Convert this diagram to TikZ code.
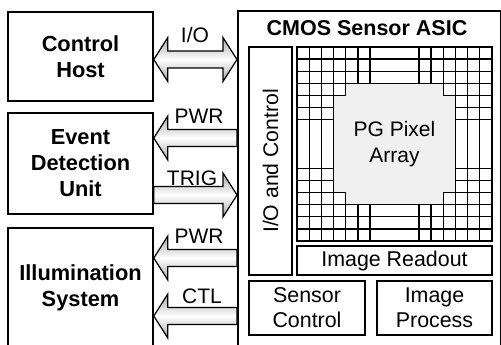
\documentclass[tikz,border=0pt]{standalone}
\usepackage{fontspec}
\setmainfont{Liberation Sans}
\usetikzlibrary{calc}
\newcommand\arrL[3]{%
  \shadedraw[blockarrow] let \p1=(#2.east), \p2=(#3.west) in
   (\x1,-#1pt) -- (\x1+14pt,-#1pt+22pt) -- (\x1+14pt,-#1pt+8.5pt) -- (\x2,-#1pt+8.5pt)
   -- (\x2,-#1pt-8.5pt) -- (\x1+14pt,-#1pt-8.5pt) -- (\x1+14pt,-#1pt-22pt) -- cycle;}
\newcommand\arrR[3]{%
  \shadedraw[blockarrow] let \p1=(#2.east), \p2=(#3.west) in
   (\x2,-#1pt) -- (\x2-14pt,-#1pt+22pt) -- (\x2-14pt,-#1pt+8.5pt) -- (\x1,-#1pt+8.5pt)
   -- (\x1,-#1pt-8.5pt) -- (\x2-14pt,-#1pt-8.5pt) -- (\x2-14pt,-#1pt-22pt) -- cycle;}
\newcommand\arrD[3]{%
  \shadedraw[blockarrow] let \p1=(#2.east), \p2=(#3.west) in
   (\x1,-#1pt) -- (\x1+14pt,-#1pt+22pt) -- (\x1+14pt,-#1pt+8.5pt) -- (\x2-14pt,-#1pt+8.5pt)
   -- (\x2-14pt,-#1pt+22pt) -- (\x2,-#1pt) -- (\x2-14pt,-#1pt-22pt) -- (\x2-14pt,-#1pt-8.5pt)
   -- (\x1+14pt,-#1pt-8.5pt) -- (\x1+14pt,-#1pt-22pt) -- cycle;}
\begin{document}
\begin{tikzpicture}[x=1pt,y=-1pt,
  box/.style={draw, line width=1.6pt, align=center, inner sep=0pt},
  lbox/.style={box, font=\fontsize{21.8}{26}\selectfont\bfseries, minimum width=145pt},
  ibox/.style={box, font=\fontsize{21.4}{25}\selectfont},
  gl/.style={line width=1.3pt},
  lbl/.style={font=\fontsize{21}{25}\selectfont, inner sep=0pt, anchor=base},
  blockarrow/.style={draw=black, line width=1.2pt, top color=gray!70, bottom color=gray!70, middle color=white, line join=miter}
]
\useasboundingbox (0,0) rectangle (501,345);
\clip (0,0) rectangle (501,345);
\fill[white] (0,0) rectangle (501,345);

% left boxes
\node[lbox, minimum height=89pt] (host) at (80.5,56.5) {Control\\Host};
\node[lbox, minimum height=101pt] (edu) at (80.5,163.5) {Event\\Detection\\Unit};
\node[lbox, minimum height=120pt] (ill) at (80.5,288) {Illumination\\System};

% ASIC
\node[box, minimum width=263pt, minimum height=337pt, anchor=north west] (asic) at (237,10) {};
\node[lbl, font=\fontsize{21.5}{25}\selectfont\bfseries] (title) at (367,36) {CMOS Sensor ASIC};

% pixel array grid
\begin{scope}[shift={(297,47)}, x=12.1875pt, y=-12.125pt]
  \fill[gray!12] (4,3) -- (12,3) -- (12,4) -- (13,4) -- (13,12) -- (12,12) -- (12,13)
     -- (4,13) -- (4,12) -- (3,12) -- (3,4) -- (4,4) -- cycle;
  \foreach \j in {1,2,3,13,14,15} \draw[gl] (0,\j) -- (16,\j);
  \foreach \j in {4,12} {\draw[gl] (0,\j) -- (4,\j); \draw[gl] (12,\j) -- (16,\j);}
  \foreach \j in {5,6,10,11} {\draw[gl] (0,\j) -- (3,\j); \draw[gl] (13,\j) -- (16,\j);}
  \foreach \i in {1,2,3,13,14,15} \draw[gl] (\i,0) -- (\i,16);
  \foreach \i in {4,12} {\draw[gl] (\i,0) -- (\i,4); \draw[gl] (\i,12) -- (\i,16);}
  \foreach \i in {5,6,10,11} {\draw[gl] (\i,0) -- (\i,3); \draw[gl] (\i,13) -- (\i,16);}
  \draw[line width=1.6pt] (0,0) rectangle (16,16);
\end{scope}
\node[font=\fontsize{21}{26}\selectfont, align=center, inner sep=0pt] (array) at (394.5,144) {PG Pixel\\Array};

% inner blocks
\node[box, rotate=90, minimum width=228pt, minimum height=43pt, font=\fontsize{21.2}{25}\selectfont] (io) at (270.5,161) {I/O and Control};
\node[ibox, minimum width=195pt, minimum height=29pt] (readout) at (394.5,260.5) {Image Readout};
\node[ibox, minimum width=116pt, minimum height=54pt] (senctl) at (307,308) {Sensor\\Control};
\node[ibox, minimum width=115pt, minimum height=54pt] (proc) at (434.5,308) {Image\\Process};

% block arrows
\arrD{59.5}{host}{asic}
\arrL{138}{edu}{asic}
\arrR{195}{edu}{asic}
\arrL{258}{ill}{asic}
\arrL{316}{ill}{asic}

% arrow labels
\node[lbl] (lio) at (195,43) {I/O};
\node[lbl] (lpwr1) at (199,123) {PWR};
\node[lbl] (ltrig) at (192,185) {TRIG};
\node[lbl] (lpwr2) at (199,243) {PWR};
\node[lbl] (lctl) at (202,303) {CTL};
\end{tikzpicture}
\end{document}
